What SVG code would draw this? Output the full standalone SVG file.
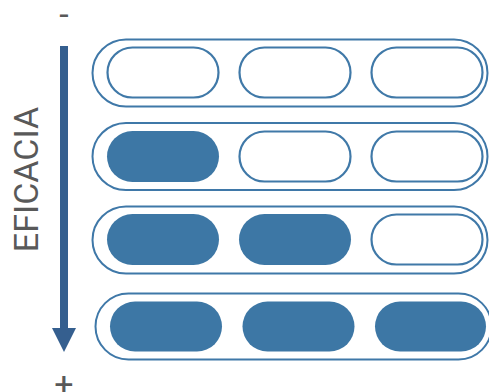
<svg xmlns="http://www.w3.org/2000/svg" width="489" height="392" viewBox="0 0 489 392">
  <style>
    .lbl { font-family: Roboto, "Liberation Sans", sans-serif; font-size: 34px; fill: #595959; }
    .outer { fill: #ffffff; stroke: #3f78a8; stroke-width: 2; }
    .empty { fill: #ffffff; stroke: #4079a8; stroke-width: 2.2; }
    .full { fill: #3d77a5; stroke: none; }
  </style>
  <rect width="489" height="392" fill="#ffffff"/>

  <!-- axis: minus at top, arrow down, plus at bottom -->
  <g id="axis">
    <text class="lbl" x="64" y="26" text-anchor="middle">-</text>
    <path d="M60,46 H68 V328 H76 L64,352 L52,328 H60 Z" fill="#355f8f"/>
    <text class="lbl" x="64" y="396" text-anchor="middle">+</text>
    <text class="lbl" transform="translate(37.5,179.5) rotate(-90)" text-anchor="middle">EFICACIA</text>
  </g>

  <!-- level 1: none filled -->
  <g id="row1">
    <rect class="outer" x="92.5" y="39.5" width="395" height="67" rx="33.5"/>
    <rect class="empty" x="107.5" y="47.5" width="111" height="50" rx="25"/>
    <rect class="empty" x="239.5" y="47.5" width="111" height="50" rx="25"/>
    <rect class="empty" x="371.5" y="47.5" width="111" height="50" rx="25"/>
  </g>

  <!-- level 2: one filled -->
  <g id="row2">
    <rect class="outer" x="92.5" y="123" width="395" height="67" rx="33.5"/>
    <rect class="full" x="107" y="131" width="112" height="51" rx="25.5"/>
    <rect class="empty" x="239.5" y="131.5" width="111" height="50" rx="25"/>
    <rect class="empty" x="371.5" y="131.5" width="111" height="50" rx="25"/>
  </g>

  <!-- level 3: two filled -->
  <g id="row3">
    <rect class="outer" x="92.5" y="206.5" width="395" height="67" rx="33.5"/>
    <rect class="full" x="107" y="214" width="112" height="51" rx="25.5"/>
    <rect class="full" x="239" y="214" width="112" height="51" rx="25.5"/>
    <rect class="empty" x="371.5" y="214.5" width="111" height="50" rx="25"/>
  </g>

  <!-- level 4: all filled -->
  <g id="row4">
    <rect class="outer" x="95.5" y="293.5" width="396" height="66" rx="33"/>
    <rect class="full" x="110" y="301.5" width="112" height="50" rx="25"/>
    <rect class="full" x="242.5" y="301.5" width="112" height="50" rx="25"/>
    <rect class="full" x="375" y="301.5" width="111" height="50" rx="25"/>
  </g>

  <g id="connectors"/>
</svg>
